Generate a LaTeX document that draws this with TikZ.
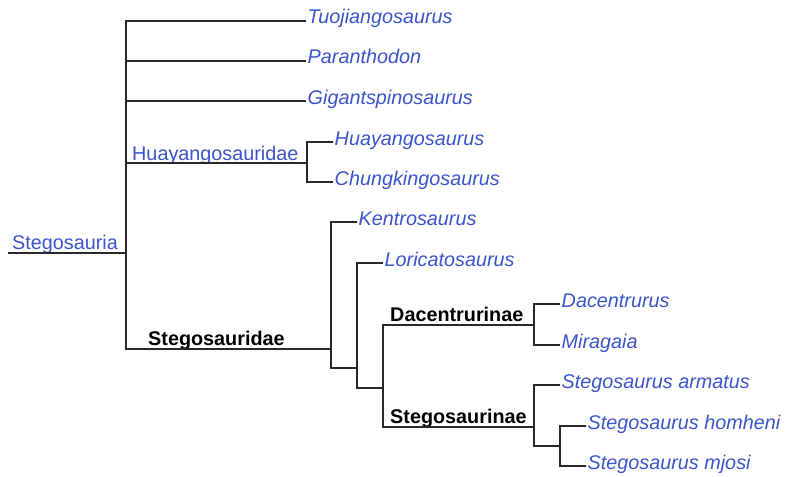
\documentclass[tikz,border=0pt]{standalone}
\usepackage{fontspec}
\setmainfont{Liberation Sans}
\usepackage{tikz}
\usetikzlibrary{positioning}
\definecolor{link}{RGB}{58,84,204}
\definecolor{branch}{RGB}{40,40,40}

\begin{document}
\begin{tikzpicture}[x=1pt, y=-1pt,
  taxon/.style={anchor=west, inner xsep=1.5pt, inner ysep=0pt, text height=.8em, text depth=.2em,
    color=link, font=\fontsize{19.8}{24}\selectfont\itshape},
  clade/.style={anchor=base west, inner sep=0pt, font=\fontsize{19.8}{24}\selectfont\bfseries},
  cladelink/.style={clade, color=link, font=\fontsize{19.8}{24}\selectfont},
  edge/.style={draw=branch, line width=1.1pt}]
  \useasboundingbox (0,0) rectangle (786,476);

  % junctions
  \coordinate (root) at (8,253);
  \coordinate (stegosauria) at (126,253);
  \coordinate (huayangosauridae) at (307,163);
  \coordinate (stegosauridae) at (331,349);
  \coordinate (s1) at (357,368);
  \coordinate (s2) at (383,388);
  \coordinate (dacentrurinae) at (534,325);
  \coordinate (stegosaurinae) at (534,427);
  \coordinate (s3) at (560,446);

  % leaves
  \node[taxon] (tuo) at (306,21) {Tuojiangosaurus};
  \node[taxon] (par) at (306,61) {Paranthodon};
  \node[taxon] (gig) at (306,101) {Gigantspinosaurus};
  \node[taxon] (hua) at (333,142) {Huayangosaurus};
  \node[taxon] (chu) at (333,182) {Chungkingosaurus};
  \node[taxon] (ken) at (357,222) {Kentrosaurus};
  \node[taxon] (lor) at (383,263) {Loricatosaurus};
  \node[taxon] (dac) at (560,304) {Dacentrurus};
  \node[taxon] (mir) at (560,345) {Miragaia};
  \node[taxon] (arm) at (560,385) {Stegosaurus armatus};
  \node[taxon] (hom) at (586,426) {Stegosaurus homheni};
  \node[taxon] (mjo) at (586,466) {Stegosaurus mjosi};

  % clade names
  \node[cladelink] (lstegosauria) at (12,249) {Stegosauria};
  \node[cladelink] (lhuayango) at (132,160) {Huayangosauridae};
  \node[clade] (lstegosauridae) at (148,345) {Stegosauridae};
  \node[clade] (ldacentrurinae) at (390,321) {Dacentrurinae};
  \node[clade] (lstegosaurinae) at (390,423) {Stegosaurinae};

  % branches
  \draw[edge] (root) -- (stegosauria);
  \draw[edge] (stegosauria) |- (tuo.west);
  \draw[edge] (stegosauria) |- (par.west);
  \draw[edge] (stegosauria) |- (gig.west);
  \draw[edge] (stegosauria) |- (huayangosauridae);
  \draw[edge] (stegosauria) |- (stegosauridae);
  \draw[edge] (huayangosauridae) |- (hua.west);
  \draw[edge] (huayangosauridae) |- (chu.west);
  \draw[edge] (stegosauridae) |- (ken.west);
  \draw[edge] (stegosauridae) |- (s1);
  \draw[edge] (s1) |- (lor.west);
  \draw[edge] (s1) |- (s2);
  \draw[edge] (s2) |- (dacentrurinae);
  \draw[edge] (s2) |- (stegosaurinae);
  \draw[edge] (dacentrurinae) |- (dac.west);
  \draw[edge] (dacentrurinae) |- (mir.west);
  \draw[edge] (stegosaurinae) |- (arm.west);
  \draw[edge] (stegosaurinae) |- (s3);
  \draw[edge] (s3) |- (hom.west);
  \draw[edge] (s3) |- (mjo.west);
\end{tikzpicture}
\end{document}
